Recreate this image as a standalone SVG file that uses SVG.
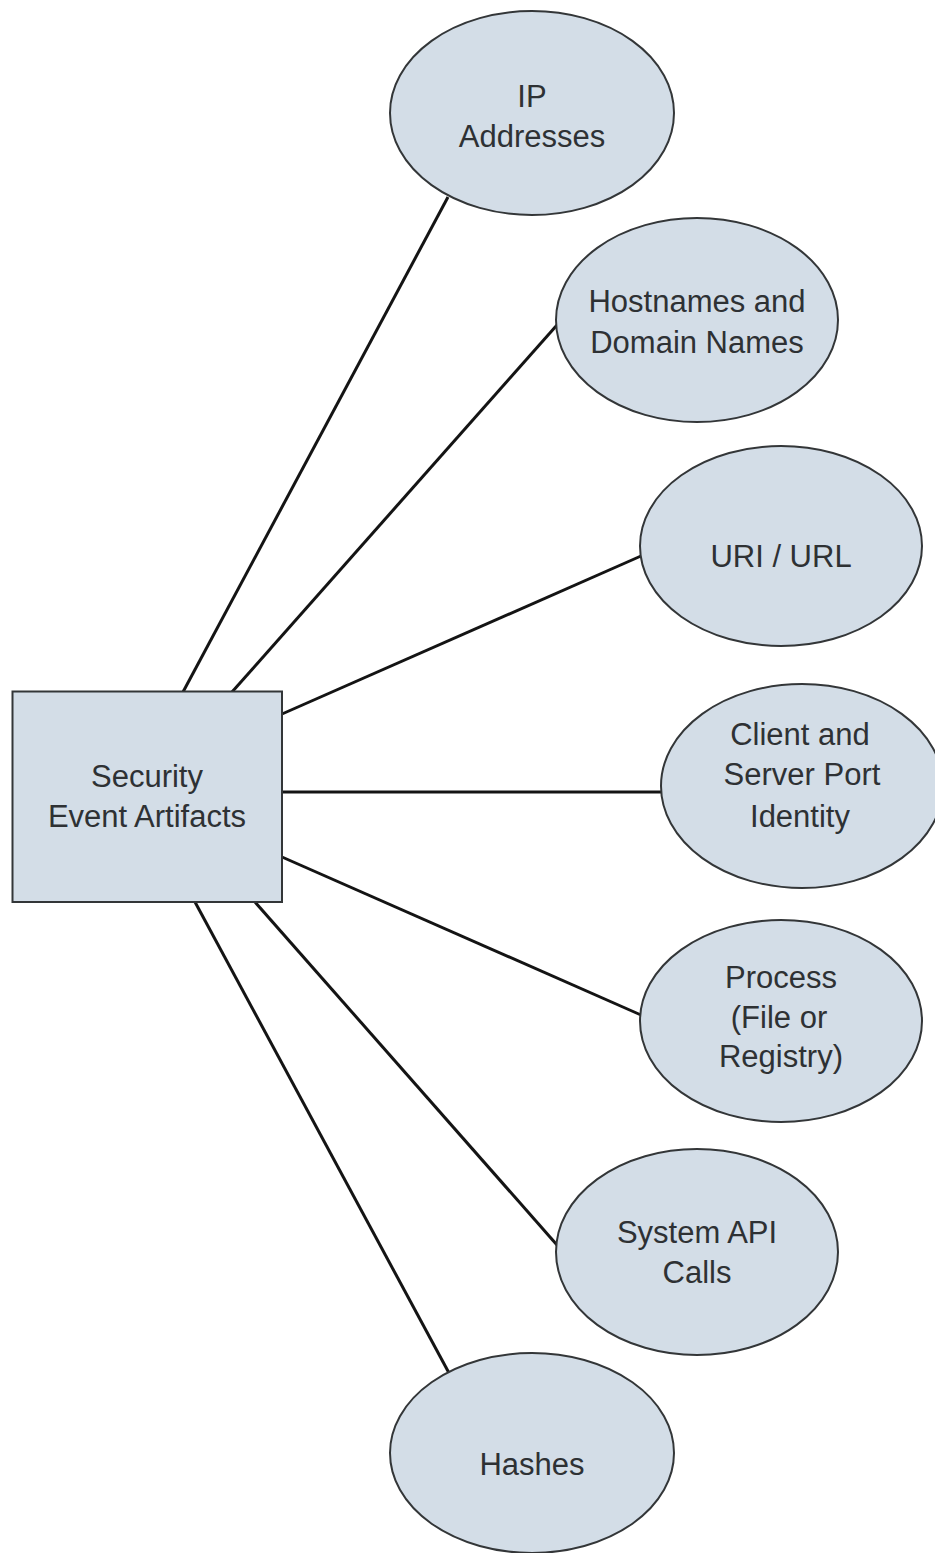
<svg xmlns="http://www.w3.org/2000/svg" width="935" height="1553" viewBox="0 0 935 1553">
  <style>
    .node { fill: #d3dde7; stroke: #333638; stroke-width: 2; }
    .link { stroke: #141414; stroke-width: 3; fill: none; stroke-linecap: butt; }
    .label { font-family: "Liberation Sans", Arial, sans-serif; font-size: 31px; fill: #2e3134; text-anchor: middle; }
  </style>
  <rect width="935" height="1553" fill="#ffffff"/>

  <!-- spokes from the central box to each artifact -->
  <g id="connectors">
    <line class="link" x1="183" y1="692" x2="448" y2="197"/>
    <line class="link" x1="232" y1="692" x2="557" y2="325"/>
    <line class="link" x1="282" y1="714" x2="641" y2="556"/>
    <line class="link" x1="282" y1="792" x2="662" y2="792"/>
    <line class="link" x1="282" y1="857" x2="641" y2="1015"/>
    <line class="link" x1="255" y1="902" x2="557" y2="1245"/>
    <line class="link" x1="195" y1="902" x2="449" y2="1373"/>
  </g>

  <g id="security-event-artifacts">
    <rect class="node" x="12.5" y="691.5" width="269.5" height="210.5"/>
    <text class="label" x="147" y="787">Security</text>
    <text class="label" x="147" y="827">Event Artifacts</text>
  </g>

  <g id="ip-addresses">
    <ellipse class="node" cx="532" cy="113" rx="142" ry="102"/>
    <text class="label" x="532" y="107">IP</text>
    <text class="label" x="532" y="147">Addresses</text>
  </g>

  <g id="hostnames-domain-names">
    <ellipse class="node" cx="697" cy="320" rx="141" ry="102"/>
    <text class="label" x="697" y="312">Hostnames and</text>
    <text class="label" x="697" y="353">Domain Names</text>
  </g>

  <g id="uri-url">
    <ellipse class="node" cx="781" cy="546" rx="141" ry="100"/>
    <text class="label" x="781" y="567">URI / URL</text>
  </g>

  <g id="client-server-port">
    <ellipse class="node" cx="802" cy="786" rx="141" ry="102"/>
    <text class="label" x="800" y="745">Client and</text>
    <text class="label" x="802" y="785">Server Port</text>
    <text class="label" x="800" y="827">Identity</text>
  </g>

  <g id="process">
    <ellipse class="node" cx="781" cy="1021" rx="141" ry="101"/>
    <text class="label" x="781" y="988">Process</text>
    <text class="label" x="779" y="1028">(File or</text>
    <text class="label" x="781" y="1067">Registry)</text>
  </g>

  <g id="system-api-calls">
    <ellipse class="node" cx="697" cy="1252" rx="141" ry="103"/>
    <text class="label" x="697" y="1243">System API</text>
    <text class="label" x="697" y="1283">Calls</text>
  </g>

  <g id="hashes">
    <ellipse class="node" cx="532" cy="1453" rx="142" ry="100"/>
    <text class="label" x="532" y="1475">Hashes</text>
  </g>
</svg>
